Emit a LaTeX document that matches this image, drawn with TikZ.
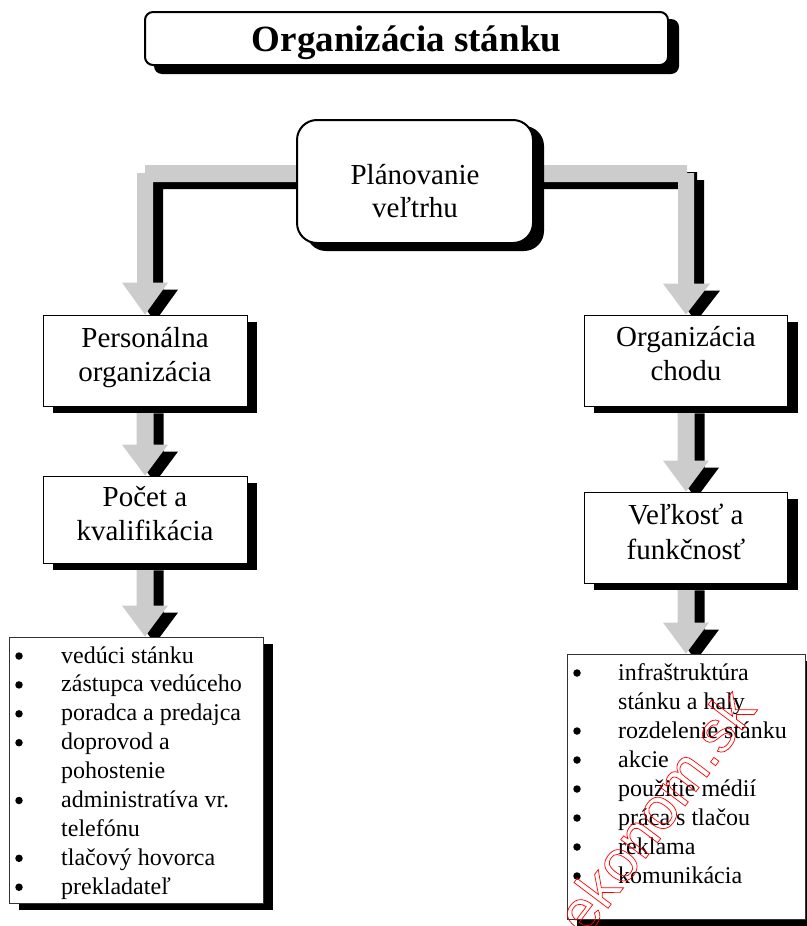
\documentclass[tikz,border=0pt]{standalone}
\usepackage{fontspec}
\setmainfont{Liberation Serif}
\newfontfamily\wmfont{Liberation Sans}
\usetikzlibrary{calc}
\definecolor{arrowgray}{RGB}{204,204,204}
\pgfdeclarelayer{bg}
\pgfsetlayers{bg,main}
\newcommand\myvarrow[2]{%
  \coordinate (tip#1) at (#1.south |- #2.north);
  \foreach \dx/\dy/\col in {10/7/black,0/0/arrowgray}{
    \fill[\col] ($(#1.south)+(\dx-8.5,\dy)$) -- ($(tip#1)+(\dx-8.5,\dy-31)$)
      -- ($(tip#1)+(\dx-23,\dy-31)$) -- ($(tip#1)+(\dx,\dy)$)
      -- ($(tip#1)+(\dx+23,\dy-31)$) -- ($(tip#1)+(\dx+8.5,\dy-31)$)
      -- ($(#1.south)+(\dx+8.5,\dy)$) -- cycle;
  }}
\newcommand\myshadow[2]{% node, corner radius
  \fill[black, rounded corners=#2] ($(#1.north west)+(10,7)$) rectangle ($(#1.south east)+(10,7)$);}
\newcommand\shtext[2]{\raisebox{#1}[\height][\depth]{\begin{tabular}{@{}c@{}}#2\end{tabular}}}
\begin{document}
\begin{tikzpicture}[x=1pt,y=-1pt,
  box/.style={draw=black, line width=0.8pt, fill=white, minimum width=204pt,
    minimum height=91pt, inner sep=0pt, align=center,
    font=\fontsize{29}{34.5}\selectfont},
  listbox/.style={draw=black!80, line width=0.8pt, fill=white, inner sep=0pt},
  item/.style={anchor=base west, inner sep=0pt, font=\fontsize{24}{29}\selectfont},
  bul/.style={circle, fill=black, inner sep=0pt, minimum size=7.5pt}]
\useasboundingbox (0,0) rectangle (806,926);

% title
\node[draw=black, line width=2pt, fill=white, rounded corners=8pt,
  minimum width=523pt, minimum height=53pt, inner sep=0pt,
  font=\bfseries\fontsize{37}{40}\selectfont] (title) at (406.5,38.5)
  {\raisebox{-4pt}[\height][\depth]{Organizácia stánku}};

% center
\node[draw=black, line width=2pt, fill=white, rounded corners=20pt,
  minimum width=236pt, minimum height=123pt, inner sep=0pt,
  font=\fontsize{29}{33}\selectfont] (plan) at (415,181.5) {\shtext{-13pt}{Plánovanie\\veľtrhu}};

% left column
\node[box] (pers) at (145,360.5) {\shtext{3pt}{Personálna\\organizácia}};
\node[box, minimum height=87pt] (pocet) at (145,519.5) {\shtext{3pt}{Počet a\\kvalifikácia}};
\node[listbox, minimum width=254pt, minimum height=266pt] (llist) at (136,770) {};

% right column
\node[box, minimum width=203pt] (chod) at (686,360.5) {\shtext{4pt}{Organizácia\\chodu}};
\node[box, minimum width=203pt] (velk) at (686,537.5) {\shtext{2.5pt}{Veľkosť a\\funkčnosť}};
\node[listbox, minimum width=238pt, minimum height=265pt] (rlist) at (686,786.5) {};

% left list items
\foreach \k/\b/\t in {0/1/vedúci stánku, 1/1/zástupca vedúceho, 2/1/poradca a predajca,
  3/1/doprovod a, 4/0/pohostenie, 5/1/administratíva vr., 6/0/telefónu,
  7/1/tlačový hovorca, 8/1/prekladateľ}{
  \node[item] (lt\k) at (61,663+28.9*\k) {\t};
  \ifnum\b=1 \node[bul] (lb\k) at (19,656+28.9*\k) {};\fi
}
% right list items
\foreach \k/\b/\t in {0/1/infraštruktúra, 1/0/stánku a haly, 2/1/rozdelenie stánku,
  3/1/akcie, 4/1/použitie médií, 5/1/práca s tlačou, 6/1/reklama, 7/1/komunikácia}{
  \node[item] (rt\k) at (618,680+29*\k) {\t};
  \ifnum\b=1 \node[bul] (rb\k) at (577,673+29*\k) {};\fi
}

% watermark
\node[rotate=53, text=red, inner sep=0pt, font=\wmfont\fontsize{59}{59}\selectfont] (wm) at (655,811)
  {\special{pdf:literal direct 1 Tr 0.7 w}ekonom.sk\special{pdf:literal direct 0 Tr}};

\begin{pgfonlayer}{bg}
  % elbow arrows
  \coordinate (KL) at (pers.north |- plan.west);
  \coordinate (KR) at (chod.north |- plan.east);
  \foreach \dx/\dy/\col in {10/7/black,0/0/arrowgray}{
    \fill[\col] ($(plan.west)+(\dx,\dy-16.5)$) -- ($(KL)+(\dx,\dy-16.5)$)
      -- ($(KL)+(\dx,\dy-8.5)$) -- ($(KL)+(\dx-8,\dy-8.5)$)
      -- ($(pers.north)+(\dx-8,\dy-32)$) -- ($(pers.north)+(\dx-23,\dy-32)$)
      -- ($(pers.north)+(\dx,\dy)$) -- ($(pers.north)+(\dx+23,\dy-32)$)
      -- ($(pers.north)+(\dx+8,\dy-32)$) -- ($(KL)+(\dx+8,\dy+0.5)$)
      -- ($(plan.west)+(\dx,\dy+0.5)$) -- cycle;
    \fill[\col] ($(plan.east)+(\dx,\dy-16.5)$) -- ($(KR)+(\dx+1,\dy-16.5)$)
      -- ($(KR)+(\dx+1,\dy-8.5)$) -- ($(KR)+(\dx+8,\dy-8.5)$)
      -- ($(chod.north)+(\dx+8,\dy-31)$) -- ($(chod.north)+(\dx+24,\dy-31)$)
      -- ($(chod.north)+(\dx,\dy)$) -- ($(chod.north)+(\dx-23,\dy-31)$)
      -- ($(chod.north)+(\dx-8,\dy-31)$) -- ($(KR)+(\dx-8,\dy+0.5)$)
      -- ($(plan.east)+(\dx,\dy+0.5)$) -- cycle;
  }
  \myvarrow{pers}{pocet}
  \myvarrow{pocet}{llist}
  \myvarrow{chod}{velk}
  \myvarrow{velk}{rlist}
  % box shadows
  \fill[black, rounded corners=8pt] ($(title.north west)+(10,8)$) rectangle ($(title.south east)+(10,8)$);
  \myshadow{plan}{20pt}
  \myshadow{pers}{0pt}
  \myshadow{pocet}{0pt}
  \myshadow{llist}{0pt}
  \myshadow{chod}{0pt}
  \myshadow{velk}{0pt}
  \myshadow{rlist}{0pt}
\end{pgfonlayer}
\end{tikzpicture}
\end{document}
